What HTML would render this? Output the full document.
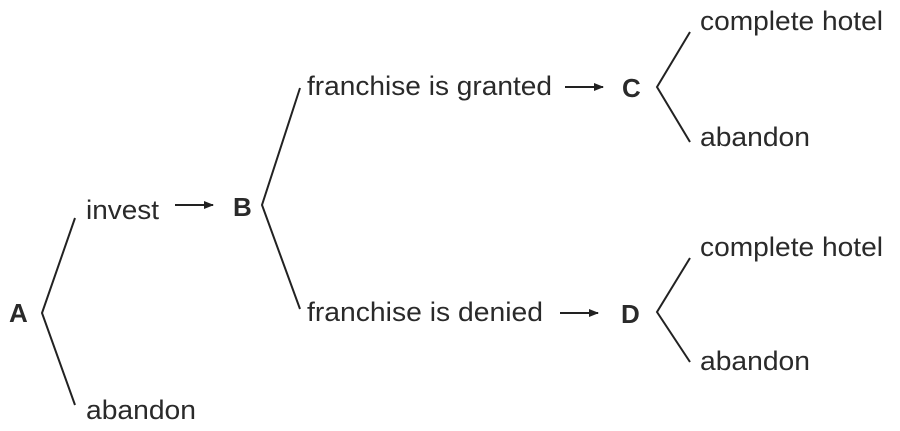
<!DOCTYPE html>
<html><head><style>html,body{margin:0;padding:0;background:#fff;width:900px;height:431px;overflow:hidden}</style></head>
<body>
<svg width="900" height="431" viewBox="0 0 900 431" xmlns="http://www.w3.org/2000/svg" font-family="Liberation Sans, sans-serif" font-size="27" fill="#2a2a2a">
<defs><marker id="ar" markerWidth="10" markerHeight="8" refX="9" refY="4" orient="auto" markerUnits="userSpaceOnUse"><path d="M0,0 L10,4 L0,8 z" fill="#222"/></marker></defs>
<g stroke="#222" stroke-width="2" fill="none">
<polyline points="75,218 42,313 75,405"/>
<polyline points="300,88 262,205 300,309"/>
<polyline points="690,32 657,87 690,142"/>
<polyline points="690,258 657,312 690,362"/>
<line x1="175" y1="205" x2="213" y2="205" marker-end="url(#ar)"/>
<line x1="565" y1="87" x2="603" y2="87" marker-end="url(#ar)"/>
<line x1="560" y1="313" x2="598" y2="313" marker-end="url(#ar)"/>
</g>
<g font-weight="bold" font-size="26">
<text x="9" y="322">A</text>
<text x="233" y="216">B</text>
<text x="622" y="97">C</text>
<text x="621" y="323">D</text>
</g>
<text x="86" y="219" textLength="73" lengthAdjust="spacingAndGlyphs">invest</text>
<text x="86" y="419" textLength="110" lengthAdjust="spacingAndGlyphs">abandon</text>
<text x="307" y="95" textLength="245" lengthAdjust="spacingAndGlyphs">franchise is granted</text>
<text x="307" y="321" textLength="236" lengthAdjust="spacingAndGlyphs">franchise is denied</text>
<text x="700" y="30" textLength="183" lengthAdjust="spacingAndGlyphs">complete hotel</text>
<text x="700" y="146" textLength="110" lengthAdjust="spacingAndGlyphs">abandon</text>
<text x="700" y="256" textLength="183" lengthAdjust="spacingAndGlyphs">complete hotel</text>
<text x="700" y="370" textLength="110" lengthAdjust="spacingAndGlyphs">abandon</text>
</svg>
</body></html>
